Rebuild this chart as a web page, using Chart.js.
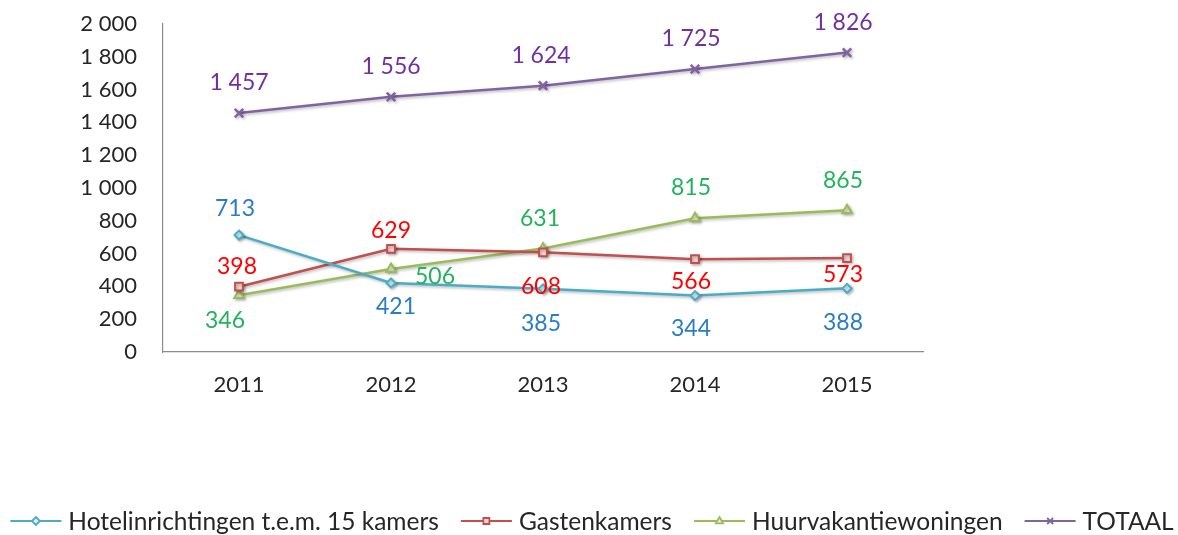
<!DOCTYPE html>
<html>
<head>
<meta charset="utf-8">
<script src="https://cdn.jsdelivr.net/npm/chart.js@4/dist/chart.umd.min.js"></script>
<style>
  html, body { margin: 0; padding: 0; background: #fff; }
  #wrap { width: 1178px; height: 535px; position: relative; }
</style>
</head>
<body>
<div id="wrap"><canvas id="c"></canvas></div>
<script>
// ---- data ----
const years = ['2011', '2012', '2013', '2014', '2015'];
const hotel = [713, 421, 385, 344, 388];
const gasten = [398, 629, 608, 566, 573];
const huur = [346, 506, 631, 815, 865];
const totaal = [1457, 1556, 1624, 1725, 1826];
const seriesNames = ['Hotelinrichtingen t.e.m. 15 kamers', 'Gastenkamers', 'Huurvakantiewoningen', 'TOTAAL'];
const yTickMin = 0, yTickMax = 2000, yTickStep = 200;

// ---- label placement (offset of label centre from point, px) ----
const hotelLabelOffset = [[-4, -26], [5, 24], [-2, 35], [-4, 33], [-4, 34]];
const gastenLabelOffset = [[-2, -20], [0, -18], [-2, 34], [-4, 22], [-4, 17]];
const huurLabelOffset = [[-14, 25], [44, 8], [-3, -30], [-4, -31], [-4, -30]];
const totaalLabelOffset = [[0, -30], [0, -30], [-2, -30], [-4, -31], [-4, -30]];

const FONT = 'Lato';
const fmt = v => String(v).replace(/\B(?=(\d{3})+(?!\d))/g, ' ');

const styles = [
  { line: '#4BACC6', fill: '#DDF0F5', label: '#2A7CC7', shape: 'rectRot', r: 4.5, offs: hotelLabelOffset },
  { line: '#C0504D', fill: '#F6D8D7', label: '#FF0000', shape: 'rect', r: 5.5, offs: gastenLabelOffset },
  { line: '#9BBB59', fill: '#E8F0D9', label: '#22B35C', shape: 'triangle', r: 5.5, offs: huurLabelOffset },
  { line: '#8064A2', fill: '#8064A2', label: '#7030A0', shape: 'crossRot', r: 6, offs: totaalLabelOffset }
];

function drawMarker(ctx, shape, x, y, r, stroke, fill) {
  ctx.save();
  ctx.strokeStyle = stroke; ctx.fillStyle = fill; ctx.lineWidth = 1.8;
  ctx.beginPath();
  if (shape === 'rectRot') {
    ctx.moveTo(x, y - r); ctx.lineTo(x + r, y); ctx.lineTo(x, y + r); ctx.lineTo(x - r, y); ctx.closePath();
    ctx.fill(); ctx.stroke();
  } else if (shape === 'rect') {
    const s = r * 0.75;
    ctx.rect(x - s, y - s, 2 * s, 2 * s); ctx.fill(); ctx.stroke();
  } else if (shape === 'triangle') {
    ctx.moveTo(x, y - r); ctx.lineTo(x + r * 0.9, y + r * 0.6); ctx.lineTo(x - r * 0.9, y + r * 0.6); ctx.closePath();
    ctx.fill(); ctx.stroke();
  } else {
    const s = r * 0.75;
    ctx.moveTo(x - s, y - s); ctx.lineTo(x + s, y + s); ctx.moveTo(x + s, y - s); ctx.lineTo(x - s, y + s); ctx.stroke();
  }
  ctx.restore();
}

const allData = [hotel, gasten, huur, totaal];
const datasets = allData.map((d, i) => ({
  label: seriesNames[i],
  data: d,
  borderColor: styles[i].line,
  backgroundColor: styles[i].fill,
  borderWidth: 2.5,
  pointStyle: styles[i].shape,
  pointRadius: styles[i].r,
  pointBorderWidth: i === 3 ? 2.5 : 2,
  pointBackgroundColor: styles[i].fill,
  pointBorderColor: styles[i].line,
  tension: 0,
  fill: false
}));

const shadowPlugin = {
  id: 'shadow',
  beforeDatasetDraw(chart) {
    const ctx = chart.ctx;
    ctx.save();
    ctx.shadowColor = 'rgba(0,0,0,0.28)';
    ctx.shadowBlur = 3;
    ctx.shadowOffsetX = 1.5;
    ctx.shadowOffsetY = 1.5;
  },
  afterDatasetDraw(chart) { chart.ctx.restore(); }
};

const labelPlugin = {
  id: 'valueLabels',
  afterDatasetsDraw(chart) {
    const ctx = chart.ctx;
    ctx.save();
    ctx.font = '23px ' + FONT;
    ctx.textAlign = 'center';
    ctx.textBaseline = 'middle';
    chart.data.datasets.forEach((ds, i) => {
      const meta = chart.getDatasetMeta(i);
      ctx.fillStyle = styles[i].label;
      meta.data.forEach((pt, j) => {
        const o = styles[i].offs[j];
        ctx.fillText(fmt(ds.data[j]), pt.x + o[0], pt.y + o[1]);
      });
    });
    ctx.restore();
  }
};

// legend drawn below the axis: line-with-marker symbol followed by series name
const legendPlugin = {
  id: 'lineLegend',
  afterDraw(chart) {
    const ctx = chart.ctx;
    const symW = 51, symGap = 7, itemGap = 22, cy = 521;
    ctx.save();
    ctx.font = '24.5px ' + FONT;
    ctx.textBaseline = 'middle';
    ctx.textAlign = 'left';
    const items = chart.data.datasets.map(ds => ({ text: ds.label, w: ctx.measureText(ds.label).width }));
    const total = items.reduce((s, it) => s + symW + symGap + it.w, 0) + itemGap * (items.length - 1);
    let x = 592 - total / 2;
    items.forEach((it, i) => {
      const s = styles[i];
      ctx.strokeStyle = s.line; ctx.lineWidth = 2;
      ctx.beginPath(); ctx.moveTo(x, cy); ctx.lineTo(x + symW, cy); ctx.stroke();
      drawMarker(ctx, s.shape, x + symW / 2, cy, 4, s.line, s.fill);
      ctx.fillStyle = '#262626';
      ctx.fillText(it.text, x + symW + symGap, cy + 1);
      x += symW + symGap + it.w + itemGap;
    });
    ctx.restore();
  }
};

Chart.defaults.font.family = FONT;
Chart.defaults.color = '#262626';

new Chart(document.getElementById('c'), {
  type: 'line',
  data: { labels: years, datasets },
  options: {
    responsive: true,
    maintainAspectRatio: false,
    animation: false,
    layout: { padding: { top: 24, left: 0, right: 0, bottom: 0 } },
    scales: {
      x: {
        offset: true,
        grid: { display: false, drawTicks: false },
        border: { display: true, color: '#8C8C8C', width: 1.2 },
        ticks: { font: { size: 22 }, padding: 20, color: '#262626' },
        afterFit(scale) { scale.height = 183; }
      },
      y: {
        min: yTickMin, max: yTickMax,
        grid: { display: true, drawOnChartArea: false, drawTicks: true, tickLength: 26, color: 'rgba(0,0,0,0)' },
        border: { display: true, color: '#8C8C8C', width: 1.2 },
        ticks: { stepSize: yTickStep, font: { size: 22 }, padding: 0, color: '#262626', callback: v => fmt(v) },
        afterFit(scale) { scale.width = 163; }
      },
      yRight: {
        position: 'right',
        display: true,
        min: yTickMin, max: yTickMax,
        grid: { display: false, drawTicks: false },
        border: { display: false },
        ticks: { display: false },
        afterFit(scale) { scale.width = 255; }
      }
    },
    plugins: {
      tooltip: { enabled: false },
      legend: { display: false }
    }
  },
  plugins: [shadowPlugin, labelPlugin, legendPlugin]
});
</script>
</body>
</html>
